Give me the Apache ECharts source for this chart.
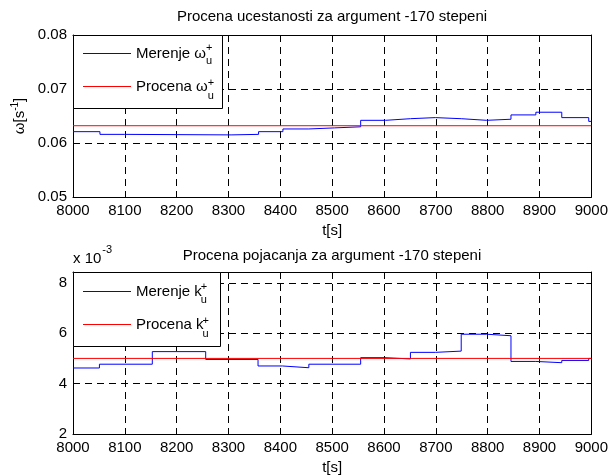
<!DOCTYPE html>
<html>
<head>
<meta charset="utf-8">
<script src="https://cdn.jsdelivr.net/npm/echarts@6/dist/echarts.min.js"></script>
<style>
    html, body { margin: 0; padding: 0; background: #fff; }
    #chart { width: 611px; height: 476px; }
</style>
</head>
<body>
<div id="chart"></div>
<script>
    // gornji grafik: procena ucestanosti (omega)
    var omegaT = [8000, 8052, 8100, 8305, 8358, 8405, 8455, 8505, 8555, 8603, 8651, 8699, 8749, 8798, 8845, 8893, 8943, 8995, 9000];
    var omegaV = [0.0621, 0.0616, 0.0615, 0.0616, 0.0621, 0.0626, 0.0628, 0.0630, 0.0642, 0.0645, 0.0647, 0.0645, 0.0642, 0.0644, 0.0652, 0.0657, 0.0647, 0.0640, 0.0640];
    var omegaEst = 0.0632;

    // donji grafik: procena pojacanja (x 10^-3)
    var gainT = [8000, 8051, 8153, 8256, 8357, 8404, 8455, 8555, 8601, 8651, 8699, 8749, 8798, 8845, 8893, 8943, 8995, 9000];
    var gainV = [4.62, 4.77, 5.27, 4.96, 4.70, 4.63, 4.77, 5.03, 4.98, 5.24, 5.29, 5.96, 5.90, 4.88, 4.83, 4.92, 5.00, 5.00];
    var gainEst = 5.0;

    var tRange = [8000, 9000];
    var tStep = 100;

    var FONT = '"Liberation Sans", Arial, sans-serif';
    var ctx = document.createElement('canvas').getContext('2d');
    ctx.font = '15px "Liberation Sans"';
    function tw(s) { return ctx.measureText(s).width; }

    function pairs(xs, ys) { return xs.map(function (x, i) { return [x, ys[i]]; }); }

    var dash = { color: '#000', width: 1, type: [7, 5] };

    function xAxes(gi) {
        return [{
            gridIndex: gi, type: 'value', min: tRange[0], max: tRange[1], interval: tStep,
            axisLine: { onZero: false, lineStyle: { color: '#000' } },
            axisTick: { inside: true, length: 5, lineStyle: { color: '#000' } },
            axisLabel: { color: '#000', fontSize: 15, fontFamily: FONT, margin: 6,
                formatter: function (v) { return String(v); } },
            splitLine: { show: true, lineStyle: dash },
            name: 't[s]', nameLocation: 'middle', nameGap: 26,
            nameTextStyle: { color: '#000', fontSize: 15, fontFamily: FONT }
        }, {
            gridIndex: gi, type: 'value', min: tRange[0], max: tRange[1], interval: tStep, position: 'top',
            axisLine: { onZero: false, lineStyle: { color: '#000' } },
            axisTick: { inside: true, length: 5, lineStyle: { color: '#000' } },
            axisLabel: { show: false }, splitLine: { show: false }
        }];
    }

    function yAxes(gi, min, max, step, extra) {
        var main = {
            gridIndex: gi, type: 'value', min: min, max: max, interval: step,
            axisLine: { onZero: false, lineStyle: { color: '#000' } },
            axisTick: { inside: true, length: 5, lineStyle: { color: '#000' } },
            axisLabel: { color: '#000', fontSize: 15, fontFamily: FONT, margin: 6, showMaxLabel: gi === 0 },
            splitLine: { show: true, lineStyle: dash }
        };
        Object.assign(main, extra || {});
        return [main, {
            gridIndex: gi, type: 'value', min: min, max: max, interval: step, position: 'right',
            axisLine: { onZero: false, lineStyle: { color: '#000' } },
            axisTick: { inside: true, length: 5, lineStyle: { color: '#000' } },
            axisLabel: { show: false }, splitLine: { show: false }
        }];
    }

    var legText = { color: '#000', fontSize: 15, fontFamily: FONT };

    // pozicije indeksa u legendi
    var legX = 83 + 48 + 5;
    var wOm = tw('Merenje ω'), wOm2 = tw('Procena ω');
    var wK = tw('Merenje k'), wK2 = tw('Procena k');
    function small(txt, x, y) {
        return { type: 'text', z: 20, x: x, y: y,
            style: { text: txt, fontSize: 11, fontFamily: FONT, fill: '#000', verticalAlign: 'middle' } };
    }

    var chart = echarts.init(document.getElementById('chart'));
    chart.setOption({
        animation: false,
        backgroundColor: '#fff',
        title: [
            { text: 'Procena ucestanosti za argument -170 stepeni', left: 332, top: 9, textAlign: 'center', padding: 0,
              textStyle: { color: '#000', fontSize: 15, fontWeight: 'normal', fontFamily: FONT } },
            { text: 'Procena pojacanja za argument -170 stepeni', left: 332, top: 248, textAlign: 'center', padding: 0,
              textStyle: { color: '#000', fontSize: 15, fontWeight: 'normal', fontFamily: FONT } }
        ],
        grid: [
            { left: 73, top: 35, width: 519, height: 162, show: false },
            { left: 73, top: 272, width: 519, height: 163, show: false }
        ],
        xAxis: xAxes(0).concat(xAxes(1)),
        yAxis: yAxes(0, 0.05, 0.08, 0.01, {
            name: '{a|ω[s}{b|-1}{a|]}', nameLocation: 'middle', nameRotate: 90, nameGap: 43,
            nameTextStyle: { color: '#000', rich: {
                a: { fontSize: 15, fontFamily: FONT, color: '#000', lineHeight: 18 },
                b: { fontSize: 10, fontFamily: FONT, color: '#000', verticalAlign: 'top', lineHeight: 18 }
            } }
        }).concat(yAxes(1, 2, 8.43, 2)),
        legend: [
            { data: ['Merenje ω', 'Procena ω'], left: 83, top: 46, orient: 'vertical', padding: 0, icon: 'rect',
              itemWidth: 48, itemHeight: 1, itemGap: 18, textStyle: legText, z: 15 },
            { data: ['Merenje k', 'Procena k'], left: 83, top: 284, orient: 'vertical', padding: 0, icon: 'rect',
              itemWidth: 48, itemHeight: 1, itemGap: 18, textStyle: legText, z: 15 }
        ],
        graphic: [
            { type: 'rect', z: 10, shape: { x: 73.5, y: 35.5, width: 149, height: 73 },
              style: { fill: '#fff', stroke: '#000', lineWidth: 1 } },
            { type: 'rect', z: 10, shape: { x: 73.5, y: 272.5, width: 147, height: 74 },
              style: { fill: '#fff', stroke: '#000', lineWidth: 1 } },
            small('+', legX + wOm, 48), small('u', legX + wOm, 61),
            small('+', legX + wOm2, 83), small('u', legX + wOm2, 96),
            small('+', legX + wK - 1, 287), small('u', legX + wK - 1, 300),
            small('+', legX + wK2 - 1, 321), small('u', legX + wK2 - 1, 334),
            { type: 'text', z: 20, x: 73, y: 259,
              style: { text: 'x 10', fontSize: 15, fontFamily: FONT, fill: '#000', verticalAlign: 'middle' } },
            small('-3', 73 + tw('x 10') + 1, 250)
        ],
        series: [
            { name: 'Merenje ω', type: 'line', xAxisIndex: 0, yAxisIndex: 0, step: 'end', symbol: 'none',
              lineStyle: { color: '#0000ff', width: 1 }, itemStyle: { color: '#0000ff' },
              data: pairs(omegaT, omegaV) },
            { name: 'Procena ω', type: 'line', xAxisIndex: 0, yAxisIndex: 0, symbol: 'none',
              lineStyle: { color: '#ff0000', width: 1 }, itemStyle: { color: '#ff0000' },
              data: [[tRange[0], omegaEst], [tRange[1], omegaEst]] },
            { name: 'Merenje k', type: 'line', xAxisIndex: 2, yAxisIndex: 2, step: 'end', symbol: 'none',
              lineStyle: { color: '#0000ff', width: 1 }, itemStyle: { color: '#0000ff' },
              data: pairs(gainT, gainV) },
            { name: 'Procena k', type: 'line', xAxisIndex: 2, yAxisIndex: 2, symbol: 'none',
              lineStyle: { color: '#ff0000', width: 1 }, itemStyle: { color: '#ff0000' },
              data: [[tRange[0], gainEst], [tRange[1], gainEst]] }
        ]
    });
</script>
</body>
</html>
